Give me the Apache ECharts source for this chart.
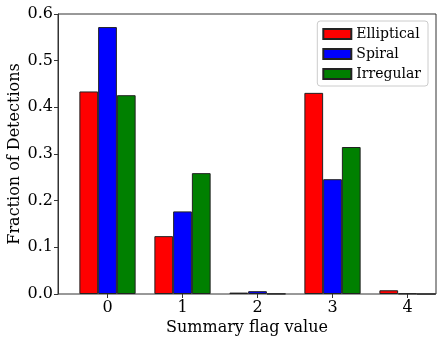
<!DOCTYPE html>
<html>
<head>
<meta charset="utf-8">
<script src="https://cdn.jsdelivr.net/npm/echarts@6/dist/echarts.min.js"></script>
<style>
  html, body { margin: 0; padding: 0; background: #fff; }
  #chart { width: 447px; height: 344px; }
</style>
</head>
<body>
<div id="chart"></div>
<script>
// summary flag values on the x axis
const flagValues = ['0', '1', '2', '3', '4'];
// fraction of detections per galaxy type
const elliptical = [0.434, 0.124, 0.003, 0.431, 0.008];
const spiral     = [0.572, 0.177, 0.006, 0.246, 0.001];
const irregular  = [0.426, 0.259, 0.0005, 0.315, 0.0];
const yTickValues = [0, 0.1, 0.2, 0.3, 0.4, 0.5, 0.6];

const serif = 'DejaVu Serif, serif';
const edge = '#222';
const ink = '#000';

const chart = echarts.init(document.getElementById('chart'), null, { renderer: 'canvas' });

function barSeries(name, color, values) {
    return {
        name: name,
        type: 'bar',
        xAxisIndex: 1,
        yAxisIndex: 1,
        barWidth: 18.75,
        barGap: '0%',
        itemStyle: { color: color, borderColor: edge, borderWidth: 1 },
        data: values
    };
}

chart.setOption({
    animation: false,
    backgroundColor: '#fff',
    grid: [
        // frame + y axis
        { left: 58, right: 11, top: 14, bottom: 50, show: true, borderColor: '#333', borderWidth: 1,
          backgroundColor: 'transparent', outerBoundsMode: 'none', containLabel: false },
        // bar layout, offset so category centres land like the original
        { left: 70, width: 375, top: 14, bottom: 50, outerBoundsMode: 'none', containLabel: false }
    ],
    xAxis: [
        {
            gridIndex: 0, type: 'value', min: 0, max: 1,
            axisLine: { show: false }, axisTick: { show: false },
            axisLabel: { show: false }, splitLine: { show: false },
            name: 'Summary flag value',
            nameLocation: 'middle',
            nameGap: 26,
            nameMoveOverlap: false,
            nameTextStyle: { color: ink, fontFamily: serif, fontSize: 16 }
        },
        {
            gridIndex: 1,
            type: 'category',
            data: flagValues,
            axisLine: { show: false },
            axisTick: { show: true, alignWithLabel: true, length: 4, lineStyle: { color: '#333' } },
            axisLabel: { color: ink, fontFamily: serif, fontSize: 16, margin: 6 }
        }
    ],
    yAxis: [
        {
            gridIndex: 0,
            type: 'value',
            min: 0,
            max: 0.6,
            interval: 0.1,
            axisLine: { show: true, lineStyle: { color: '#333' } },
            axisTick: { show: true, length: 4, lineStyle: { color: '#333' } },
            splitLine: { show: false },
            axisLabel: {
                color: ink, fontFamily: serif, fontSize: 16, margin: 5,
                customValues: yTickValues,
                formatter: v => v.toFixed(1)
            },
            name: 'Fraction of Detections',
            nameLocation: 'middle',
            nameGap: 35,
            nameMoveOverlap: false,
            nameTextStyle: { color: ink, fontFamily: serif, fontSize: 16 }
        },
        { gridIndex: 1, type: 'value', min: 0, max: 0.6, show: false }
    ],
    legend: {
        orient: 'vertical',
        right: 19,
        top: 21,
        padding: [6, 7, 5, 5],
        itemWidth: 28,
        itemHeight: 10,
        itemGap: 6,
        icon: 'rect',
        borderColor: '#ccc',
        borderWidth: 1,
        borderRadius: 3,
        backgroundColor: 'rgba(255,255,255,0.8)',
        textStyle: { color: ink, fontFamily: serif, fontSize: 14 },
        data: ['Elliptical', 'Spiral', 'Irregular']
    },
    series: [
        barSeries('Elliptical', '#ff0000', elliptical),
        barSeries('Spiral', '#0000ff', spiral),
        barSeries('Irregular', '#008000', irregular)
    ]
});
</script>
</body>
</html>
